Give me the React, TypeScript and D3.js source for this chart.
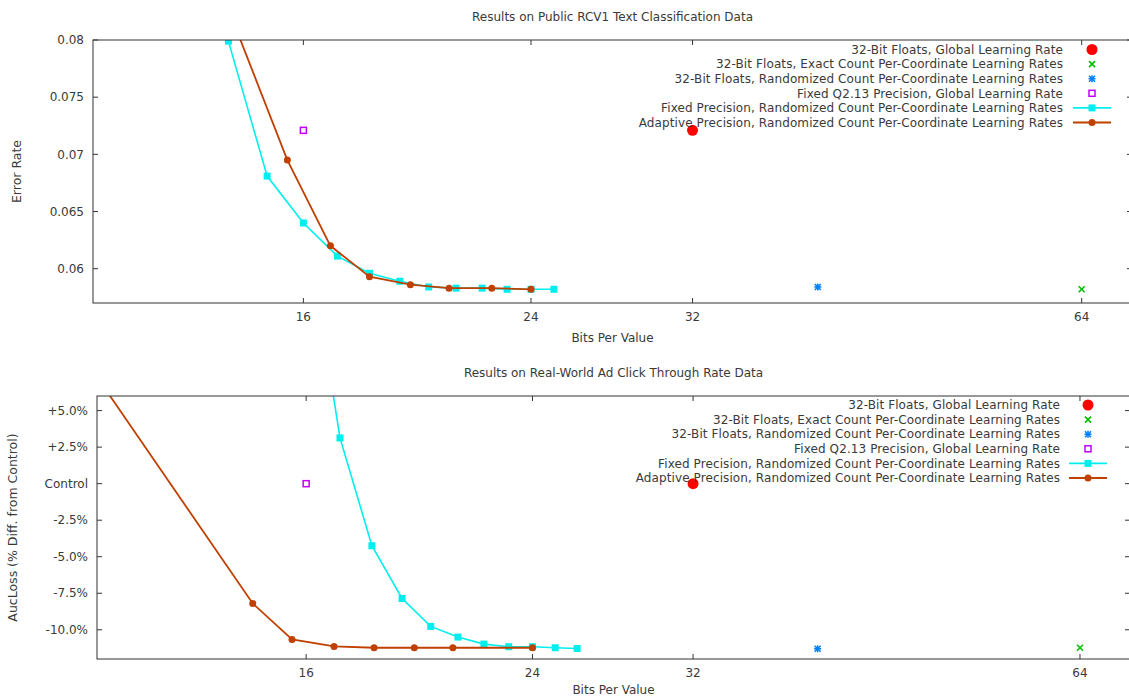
import React from "react";
import * as d3 from "d3";

// ---------- data ----------
const xTicks = [16, 24, 32, 64];

// Top panel: error rate
const topFixedRand: [number, number][] = [
  [14, 0.0799], [15, 0.0681], [16, 0.064], [17, 0.0611], [18, 0.0596], [19, 0.0589],
  [20, 0.0584], [21, 0.0583], [22, 0.0583], [23, 0.0582], [24, 0.0582], [25, 0.0582],
];
const topAdaptive: [number, number][] = [
  [14, 0.0827], [15.55, 0.0695], [16.79, 0.062], [18, 0.0593], [19.36, 0.0586],
  [20.74, 0.0583], [22.38, 0.0583], [24, 0.0582],
];
const topGlobal32: [number, number][] = [[32, 0.0721]];
const topExact32: [number, number][] = [[64, 0.0582]];
const topRand32: [number, number][] = [[40, 0.0584]];
const topQ213: [number, number][] = [[16, 0.0721]];
const topYTicks = [0.06, 0.065, 0.07, 0.075, 0.08];
const topYLabels = ["0.06", "0.065", "0.07", "0.075", "0.08"];

// Bottom panel: AucLoss % diff from control
const botFixedRand: [number, number][] = [
  [16, 17.8], [17, 3.13], [18, -4.25], [19, -7.86], [20, -9.77], [21, -10.5],
  [22, -10.98], [23, -11.16], [24, -11.16], [25, -11.23], [26, -11.28],
];
const botAdaptive: [number, number][] = [
  [11, 7.3], [14.54, -8.2], [15.6, -10.66], [16.82, -11.14], [18.07, -11.23],
  [19.42, -11.23], [20.81, -11.23], [24, -11.23],
];
const botGlobal32: [number, number][] = [[32, 0]];
const botExact32: [number, number][] = [[64, -11.23]];
const botRand32: [number, number][] = [[40, -11.3]];
const botQ213: [number, number][] = [[16, 0]];
const botYTicks = [-10, -7.5, -5, -2.5, 0, 2.5, 5];
const botYLabels = ["-10.0%", "-7.5%", "-5.0%", "-2.5%", "Control", "+2.5%", "+5.0%"];

const legendLabels = [
  "32-Bit Floats, Global Learning Rate",
  "32-Bit Floats, Exact Count Per-Coordinate Learning Rates",
  "32-Bit Floats, Randomized Count Per-Coordinate Learning Rates",
  "Fixed Q2.13 Precision, Global Learning Rate",
  "Fixed Precision, Randomized Count Per-Coordinate Learning Rates",
  "Adaptive Precision, Randomized Count Per-Coordinate Learning Rates",
];

const C_RED = "#ff0000";
const C_GREEN = "#00c000";
const C_BLUE = "#0080ff";
const C_MAG = "#c000ff";
const C_CYAN = "#00eeee";
const C_BROWN = "#c04000";
const TXT = "#3a3a3a";
const AX = "#333";
const FONT = "DejaVu Sans, sans-serif";

type MarkerKind = "bigcircle" | "x" | "star" | "opensq" | "sq" | "circle";

function Marker({ kind, x, y }: { kind: MarkerKind; x: number; y: number }) {
  switch (kind) {
    case "bigcircle":
      return <circle cx={x} cy={y} r={5.5} fill={C_RED} />;
    case "x":
      return (
        <g stroke={C_GREEN} strokeWidth={1.6}>
          <line x1={x - 3} y1={y - 3} x2={x + 3} y2={y + 3} />
          <line x1={x - 3} y1={y + 3} x2={x + 3} y2={y - 3} />
        </g>
      );
    case "star":
      return (
        <g stroke={C_BLUE} strokeWidth={1.6}>
          <line x1={x - 3} y1={y - 3} x2={x + 3} y2={y + 3} />
          <line x1={x - 3} y1={y + 3} x2={x + 3} y2={y - 3} />
          <line x1={x - 3.5} y1={y} x2={x + 3.5} y2={y} />
          <line x1={x} y1={y - 3.5} x2={x} y2={y + 3.5} />
        </g>
      );
    case "opensq":
      return <rect x={x - 3} y={y - 3} width={6} height={6} fill="none" stroke={C_MAG} strokeWidth={1.5} />;
    case "sq":
      return <rect x={x - 3.5} y={y - 3.5} width={7} height={7} fill={C_CYAN} />;
    case "circle":
      return <circle cx={x} cy={y} r={3.5} fill={C_BROWN} />;
  }
}

interface PanelProps {
  id: string;
  left: number;
  right: number;
  top: number;
  bottom: number;
  yDomain: [number, number];
  yTicks: number[];
  yLabels: string[];
  yLabelX: number;
  yTitle: string;
  yTitleX: number;
  title: string;
  titleY: number;
  xTitleY: number;
  legendTextX: number;
  legendSymX: number;
  legendY0: number;
  fixed: [number, number][];
  adaptive: [number, number][];
  g32: [number, number][];
  e32: [number, number][];
  r32: [number, number][];
  q213: [number, number][];
  mirrorY: boolean;
}

function Panel(p: PanelProps) {
  const x = d3.scaleLog().base(2).domain([11, 70]).range([p.left, p.right]);
  const y = d3.scaleLinear().domain(p.yDomain).range([p.bottom, p.top]);
  const line = d3
    .line<[number, number]>()
    .x((d) => x(d[0]))
    .y((d) => y(d[1]));
  const cx = (p.left + p.right) / 2;
  const clipId = "clip-" + p.id;
  const rowH = 14.6;
  const symbols: MarkerKind[] = ["bigcircle", "x", "star", "opensq", "sq", "circle"];
  return (
    <g fontFamily={FONT} fontSize={12} fill={TXT}>
      <defs>
        <clipPath id={clipId}>
          <rect x={p.left} y={p.top} width={p.right - p.left} height={p.bottom - p.top} />
        </clipPath>
      </defs>
      <text x={cx} y={p.titleY} textAnchor="middle">{p.title}</text>
      {/* y ticks */}
      {p.yTicks.map((t, i) => (
        <g key={"yt" + i}>
          <line x1={p.left} x2={p.left + 5} y1={y(t)} y2={y(t)} stroke={AX} />
          {p.mirrorY && <line x1={p.right - 5} x2={p.right} y1={y(t)} y2={y(t)} stroke={AX} />}
          <text x={p.yLabelX} y={y(t)} dy="0.35em" textAnchor="end">{p.yLabels[i]}</text>
        </g>
      ))}
      {/* x ticks */}
      {xTicks.map((t) => (
        <g key={"xt" + t}>
          <line x1={x(t)} x2={x(t)} y1={p.bottom} y2={p.bottom - 5} stroke={AX} />
          <line x1={x(t)} x2={x(t)} y1={p.top} y2={p.top + 5} stroke={AX} />
          <text x={x(t)} y={p.bottom + 18} textAnchor="middle">{t}</text>
        </g>
      ))}
      <text x={cx} y={p.xTitleY} textAnchor="middle">Bits Per Value</text>
      <text
        transform={`translate(${p.yTitleX},${(p.top + p.bottom) / 2}) rotate(-90)`}
        textAnchor="middle"
        fontSize={12.5}
      >
        {p.yTitle}
      </text>
      {/* data */}
      <g clipPath={`url(#${clipId})`}>
        <path d={line(p.fixed) || ""} fill="none" stroke={C_CYAN} strokeWidth={1.6} />
        {p.fixed.map((d, i) => (
          <Marker key={"f" + i} kind="sq" x={x(d[0])} y={y(d[1])} />
        ))}
        <path d={line(p.adaptive) || ""} fill="none" stroke={C_BROWN} strokeWidth={1.8} />
        {p.adaptive.map((d, i) => (
          <Marker key={"a" + i} kind="circle" x={x(d[0])} y={y(d[1])} />
        ))}
        {p.q213.map((d, i) => (
          <Marker key={"q" + i} kind="opensq" x={x(d[0])} y={y(d[1])} />
        ))}
        {p.r32.map((d, i) => (
          <Marker key={"r" + i} kind="star" x={x(d[0])} y={y(d[1])} />
        ))}
        {p.e32.map((d, i) => (
          <Marker key={"e" + i} kind="x" x={x(d[0])} y={y(d[1])} />
        ))}
        {p.g32.map((d, i) => (
          <Marker key={"g" + i} kind="bigcircle" x={x(d[0])} y={y(d[1])} />
        ))}
      </g>
      {/* legend */}
      {legendLabels.map((lab, i) => {
        const ly = p.legendY0 + i * rowH;
        return (
          <g key={"lg" + i}>
            <text x={p.legendTextX} y={ly} dy="0.35em" textAnchor="end" letterSpacing={0.1}>{lab}</text>
            {i === 4 && (
              <line x1={p.legendSymX - 19} x2={p.legendSymX + 19} y1={ly} y2={ly} stroke={C_CYAN} strokeWidth={1.6} />
            )}
            {i === 5 && (
              <line x1={p.legendSymX - 19} x2={p.legendSymX + 19} y1={ly} y2={ly} stroke={C_BROWN} strokeWidth={1.8} />
            )}
            <Marker kind={symbols[i]} x={p.legendSymX} y={ly} />
          </g>
        );
      })}
      {/* frame */}
      <rect
        x={p.left}
        y={p.top}
        width={p.right - p.left}
        height={p.bottom - p.top}
        fill="none"
        stroke={AX}
        strokeWidth={1}
      />
    </g>
  );
}

export default function App() {
  return (
    <svg
      width={1129}
      height={698}
      style={{ position: "absolute", left: 0, top: 0, background: "#fff" }}
    >
      <rect width={1129} height={698} fill="#fff" />
      <Panel
        id="top"
        left={93}
        right={1132}
        top={40}
        bottom={303}
        yDomain={[0.057, 0.08]}
        yTicks={topYTicks}
        yLabels={topYLabels}
        yLabelX={84}
        yTitle="Error Rate"
        yTitleX={21}
        title="Results on Public RCV1 Text Classification Data"
        titleY={21}
        xTitleY={342}
        legendTextX={1063}
        legendSymX={1092}
        legendY0={49.5}
        fixed={topFixedRand}
        adaptive={topAdaptive}
        g32={topGlobal32}
        e32={topExact32}
        r32={topRand32}
        q213={topQ213}
        mirrorY={true}
      />
      <Panel
        id="bot"
        left={97}
        right={1130}
        top={396}
        bottom={659}
        yDomain={[-12, 6]}
        yTicks={botYTicks}
        yLabels={botYLabels}
        yLabelX={88}
        yTitle="AucLoss (% Diff. from Control)"
        yTitleX={17}
        title="Results on Real-World Ad Click Through Rate Data"
        titleY={377}
        xTitleY={694}
        legendTextX={1060}
        legendSymX={1088}
        legendY0={405}
        fixed={botFixedRand}
        adaptive={botAdaptive}
        g32={botGlobal32}
        e32={botExact32}
        r32={botRand32}
        q213={botQ213}
        mirrorY={true}
      />
    </svg>
  );
}
